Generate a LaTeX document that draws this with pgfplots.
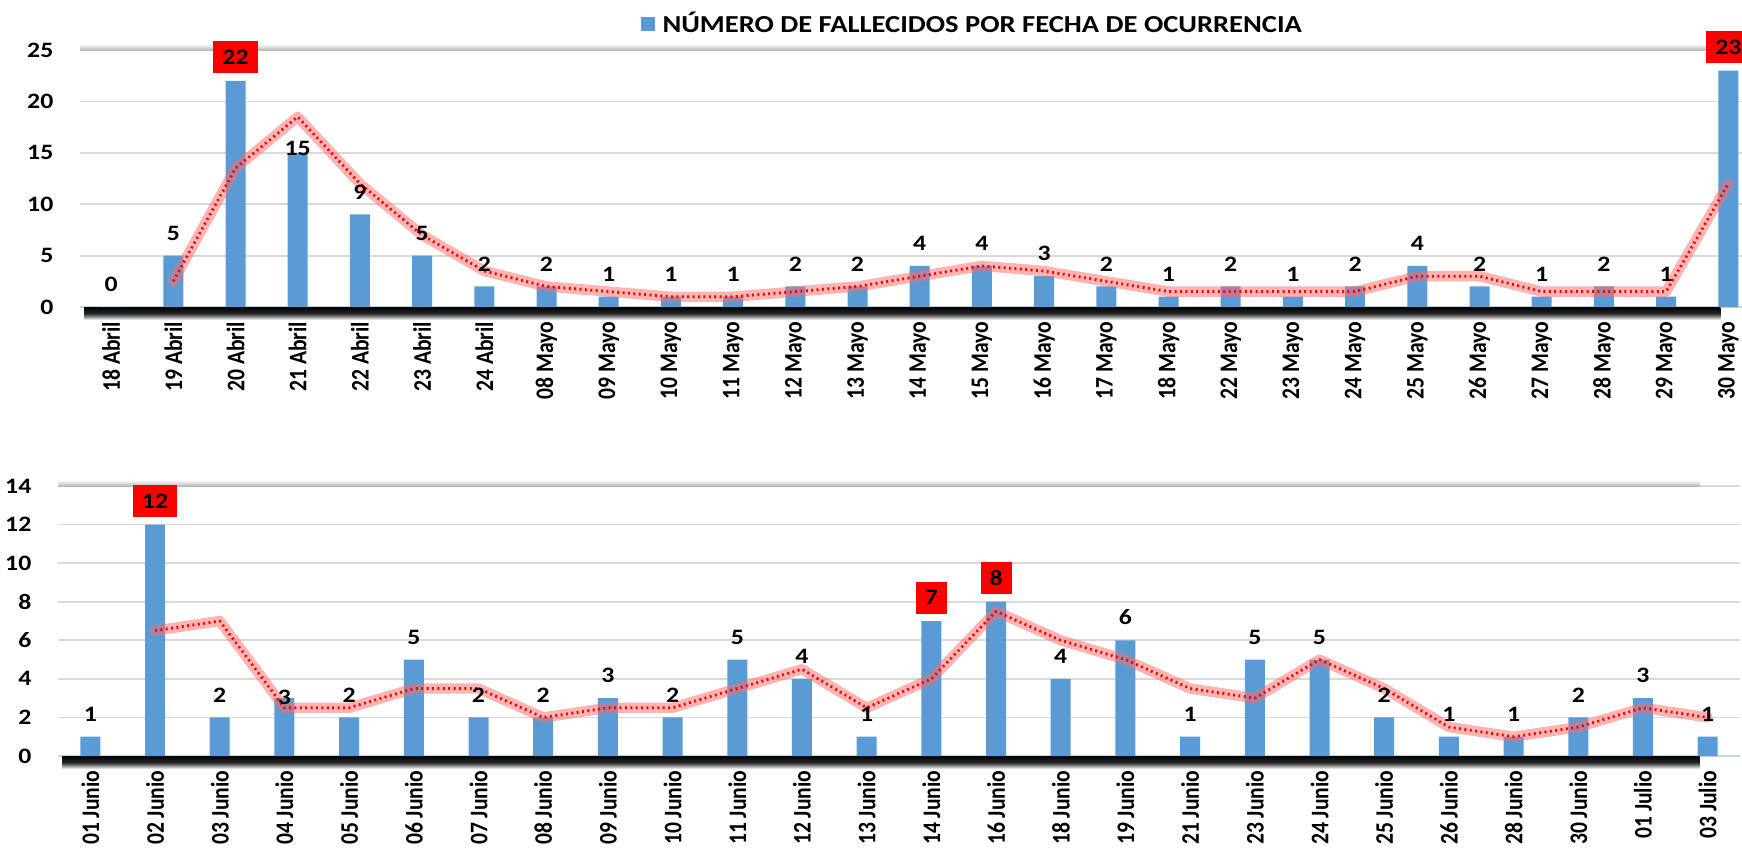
\documentclass[border=0pt]{standalone}
\usepackage{pgfplots}
\pgfplotsset{compat=1.18}
\usepackage{graphicx}
\usepackage{fontspec}
\setmainfont{Carlito}
\definecolor{barblue}{HTML}{5B9BD5}
\definecolor{gridgray}{HTML}{D9D9D9}
\definecolor{axblue}{HTML}{BDD7EE}
\definecolor{glow}{HTML}{FF6A6A}
\newcommand\sx[1]{\scalebox{1.17}[1]{#1}}
\newcommand\sy[1]{\scalebox{1}[1.17]{#1}}
\newcommand\lblfont{\bfseries\fontsize{11}{13}\selectfont}

\pgfplotsset{
  mystyle/.style={
    scale only axis, clip=false,
    axis x line*=bottom, axis y line*=left,
    y axis line style={draw=none},
    x axis line style={draw=axblue, line width=0.9pt, -},
    major tick length=0pt,
    ymajorgrids, grid style={draw=gridgray, line width=0.9pt},
    ymin=0, xmin=-0.5,
    yticklabel style={font=\lblfont, xshift=-9.8pt},
    xticklabel style={yshift=-3.9pt, rotate=90, anchor=east, font=\bfseries\fontsize{10.8}{12}\selectfont},
    /pgf/number format/assume math mode=true,
  },
  labbase/.style={draw=none, mark=none, forget plot, point meta=y,
    nodes near coords={\sx{\pgfmathprintnumber{\pgfplotspointmeta}}},
    every node near coord/.append style={font=\lblfont, text=black, anchor=south}},
  lab/.style={labbase, every node near coord/.append style={yshift=#1}},
  lab/.default=4.1pt,
  redlab/.style={labbase, every node near coord/.append style={fill=red, minimum height=16pt, inner xsep=4.5pt, yshift=3.5pt}},
  glowline/.style={no marks, forget plot, line width=5.2pt, glow, opacity=0.5, line join=round, line cap=round},
  dotline/.style={no marks, forget plot, line width=1.4pt, red, dash pattern=on 1pt off 1.7pt, line join=round},
}

\begin{document}
\begin{tikzpicture}
\useasboundingbox (0,0) rectangle (871pt,424pt);

% ---------------- TOP PANEL ----------------
\begin{axis}[mystyle,
  at={(40pt,270.5pt)}, anchor=south west,
  width=831pt, height=128.5pt,
  xmax=26.22, ymax=25,
  ytick={0,5,...,25},
  yticklabels={\sx{0},\sx{5},\sx{10},\sx{15},\sx{20},\sx{25}},
  xtick={0,...,26},
  xticklabels={\sy{18 Abril},\sy{19 Abril},\sy{20 Abril},\sy{21 Abril},\sy{22 Abril},\sy{23 Abril},\sy{24 Abril},\sy{08 Mayo},\sy{09 Mayo},\sy{10 Mayo},\sy{11 Mayo},\sy{12 Mayo},\sy{13 Mayo},\sy{14 Mayo},\sy{15 Mayo},\sy{16 Mayo},\sy{17 Mayo},\sy{18 Mayo},\sy{22 Mayo},\sy{23 Mayo},\sy{24 Mayo},\sy{25 Mayo},\sy{26 Mayo},\sy{27 Mayo},\sy{28 Mayo},\sy{29 Mayo},\sy{30 Mayo}},
  legend style={at={(axis description cs:0.337,1.101)}, anchor=west, draw=none, fill=none,
    inner sep=0pt, font=\bfseries\fontsize{12.2}{14}\selectfont, nodes={inner sep=1.6pt}},
]
\shade[top color=white, bottom color=gray!55] (rel axis cs:0,1) rectangle ([yshift=3pt]rel axis cs:1,1);
\shade[top color=black, bottom color=white, middle color=black!85] ([xshift=2pt]rel axis cs:0,0) rectangle ([yshift=-6.5pt]rel axis cs:0.987,0);

\addplot[ybar, bar width=10pt, fill=barblue, draw=none,
  legend image code/.code={\fill[barblue] (0pt,-3.6pt) rectangle (7.4pt,3.6pt);}]
  coordinates {(0,0) (1,5) (2,22) (3,15) (4,9) (5,5) (6,2) (7,2) (8,1) (9,1) (10,1) (11,2) (12,2) (13,4) (14,4) (15,3) (16,2) (17,1) (18,2) (19,1) (20,2) (21,4) (22,2) (23,1) (24,2) (25,1) (26,23)};
\addlegendentry{\hspace{2pt}\sx{NÚMERO DE FALLECIDOS POR FECHA DE OCURRENCIA}}

\addplot[glowline] coordinates {(1,2.5) (2,13.5) (3,18.5) (4,12) (5,7) (6,3.5) (7,2) (8,1.5) (9,1) (10,1) (11,1.5) (12,2) (13,3) (14,4) (15,3.5) (16,2.5) (17,1.5) (18,1.5) (19,1.5) (20,1.5) (21,3) (22,3) (23,1.5) (24,1.5) (25,1.5) (26,12)};
\addplot[dotline] coordinates {(1,2.5) (2,13.5) (3,18.5) (4,12) (5,7) (6,3.5) (7,2) (8,1.5) (9,1) (10,1) (11,1.5) (12,2) (13,3) (14,4) (15,3.5) (16,2.5) (17,1.5) (18,1.5) (19,1.5) (20,1.5) (21,3) (22,3) (23,1.5) (24,1.5) (25,1.5) (26,12)};

\addplot[lab] coordinates {(0,0) (1,5) (4,9) (5,5) (6,2) (7,2) (8,1) (9,1) (10,1) (11,2) (12,2) (13,4) (14,4) (15,3) (16,2) (17,1) (18,2) (19,1) (20,2) (21,4) (22,2) (23,1) (24,2) (25,1)};
\addplot[lab=-5.2pt] coordinates {(3,15)};
\addplot[redlab] coordinates {(2,22) (26,23)};
\end{axis}

% ---------------- BOTTOM PANEL ----------------
\begin{axis}[mystyle,
  at={(29pt,46pt)}, anchor=south west,
  width=841pt, height=135pt,
  xmax=25.5, ymax=14,
  ytick={0,2,...,14},
  yticklabels={\sx{0},\sx{2},\sx{4},\sx{6},\sx{8},\sx{10},\sx{12},\sx{14}},
  xtick={0,...,25},
  xticklabels={\sy{01 Junio},\sy{02 Junio},\sy{03 Junio},\sy{04 Junio},\sy{05 Junio},\sy{06 Junio},\sy{07 Junio},\sy{08 Junio},\sy{09 Junio},\sy{10 Junio},\sy{11 Junio},\sy{12 Junio},\sy{13 Junio},\sy{14 Junio},\sy{16 Junio},\sy{18 Junio},\sy{19 Junio},\sy{21 Junio},\sy{23 Junio},\sy{24 Junio},\sy{25 Junio},\sy{26 Junio},\sy{28 Junio},\sy{30 Junio},\sy{01 Julio},\sy{03 Julio}},
]
\shade[top color=white, bottom color=gray!55] (rel axis cs:0,1) rectangle ([yshift=3pt]rel axis cs:0.976,1);
\shade[top color=black, bottom color=white, middle color=black!85] ([xshift=2pt]rel axis cs:0,0) rectangle ([yshift=-6.5pt]rel axis cs:0.976,0);

\addplot[ybar, bar width=10pt, fill=barblue, draw=none]
  coordinates {(0,1) (1,12) (2,2) (3,3) (4,2) (5,5) (6,2) (7,2) (8,3) (9,2) (10,5) (11,4) (12,1) (13,7) (14,8) (15,4) (16,6) (17,1) (18,5) (19,5) (20,2) (21,1) (22,1) (23,2) (24,3) (25,1)};

\addplot[glowline] coordinates {(1,6.5) (2,7) (3,2.5) (4,2.5) (5,3.5) (6,3.5) (7,2) (8,2.5) (9,2.5) (10,3.5) (11,4.5) (12,2.5) (13,4) (14,7.5) (15,6) (16,5) (17,3.5) (18,3) (19,5) (20,3.5) (21,1.5) (22,1) (23,1.5) (24,2.5) (25,2)};
\addplot[dotline] coordinates {(1,6.5) (2,7) (3,2.5) (4,2.5) (5,3.5) (6,3.5) (7,2) (8,2.5) (9,2.5) (10,3.5) (11,4.5) (12,2.5) (13,4) (14,7.5) (15,6) (16,5) (17,3.5) (18,3) (19,5) (20,3.5) (21,1.5) (22,1) (23,1.5) (24,2.5) (25,2)};

\addplot[lab] coordinates {(0,1) (2,2) (4,2) (5,5) (6,2) (7,2) (8,3) (9,2) (10,5) (11,4) (12,1) (15,4) (16,6) (17,1) (18,5) (19,5) (20,2) (21,1) (22,1) (23,2) (24,3) (25,1)};
\addplot[lab=-6.6pt] coordinates {(3,3)};
\addplot[redlab] coordinates {(1,12) (13,7) (14,8)};
\end{axis}
\end{tikzpicture}
\end{document}
